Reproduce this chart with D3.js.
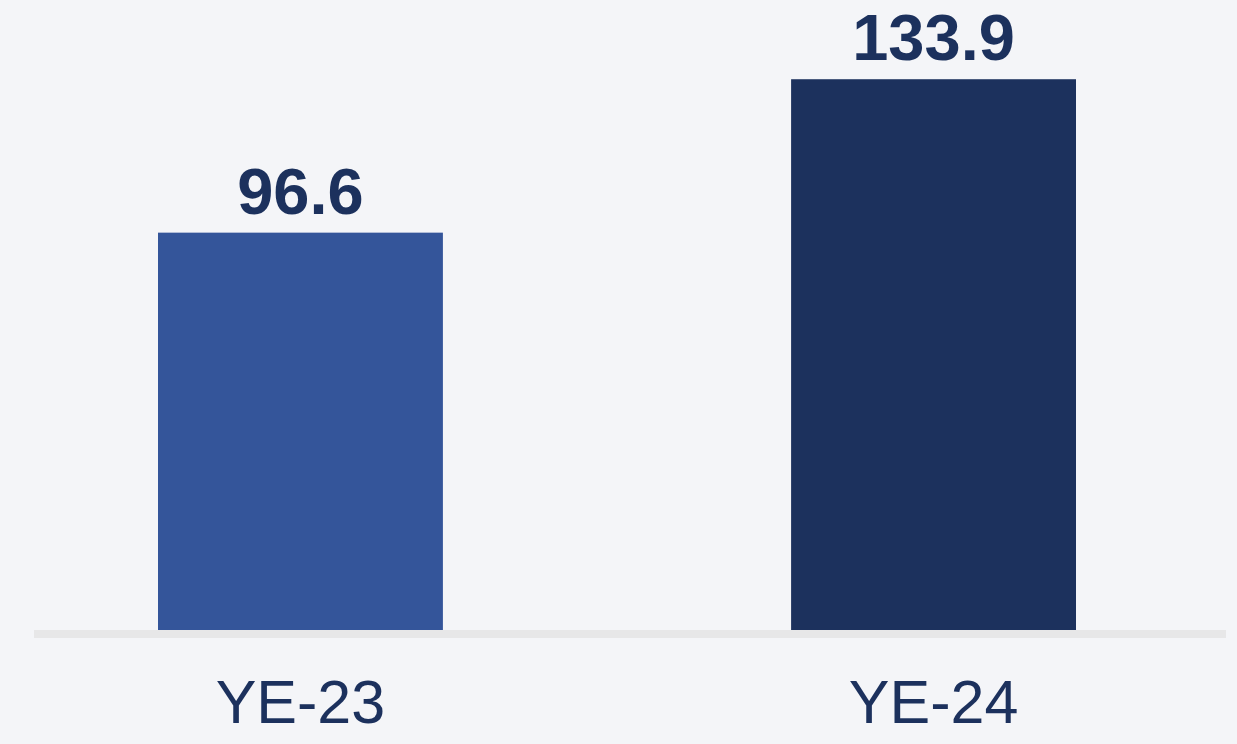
<!DOCTYPE html>
<html><head><meta charset="utf-8">
<script src="https://cdn.jsdelivr.net/npm/d3@7"></script>
<style>html,body{margin:0;padding:0;background:#f4f5f8;}svg{display:block;}</style>
</head><body>
<svg id="c" width="1237" height="744"></svg>
<script>
const categories = ["YE-23", "YE-24"];
const values = [96.6, 133.9];
const valueLabels = ["96.6", "133.9"];
const colors = ["#34559a", "#1c315d"];

const svg = d3.select("#c");
svg.append("rect").attr("width",1237).attr("height",744).attr("fill","#f4f5f8");

const x = d3.scaleBand().domain(categories).range([158, 1076]).paddingInner(0.55).paddingOuter(0);
const y = d3.scaleLinear().domain([0, 150]).range([630, 13]);

// baseline
svg.append("rect").attr("x",34).attr("y",y(0)).attr("width",1192).attr("height",8).attr("fill","#e7e7e8");

svg.selectAll("rect.bar").data(values).join("rect").attr("class","bar")
  .attr("x",(d,i)=>x(categories[i])).attr("width",x.bandwidth())
  .attr("y",d=>y(d)).attr("height",d=>y(0)-y(d))
  .attr("fill",(d,i)=>colors[i]);

svg.selectAll("text.val").data(values).join("text").attr("class","val")
  .attr("x",(d,i)=>x(categories[i])+x.bandwidth()/2)
  .attr("y",d=>y(d)-19)
  .attr("text-anchor","middle")
  .attr("font-family","Liberation Sans, Arial, sans-serif")
  .attr("font-weight","bold").attr("font-size",65)
  .attr("fill","#1c315d")
  .text((d,i)=>valueLabels[i]);

const xAxis = d3.axisBottom(x).tickSize(0).tickPadding(0);
const g = svg.append("g").attr("transform",`translate(0,${y(0)})`).call(xAxis);
g.select(".domain").remove();
g.selectAll("text").attr("font-family","Liberation Sans, Arial, sans-serif")
  .attr("font-size",61).attr("fill","#1c315d").attr("dy",null).attr("y",93);
</script>
</body></html>
